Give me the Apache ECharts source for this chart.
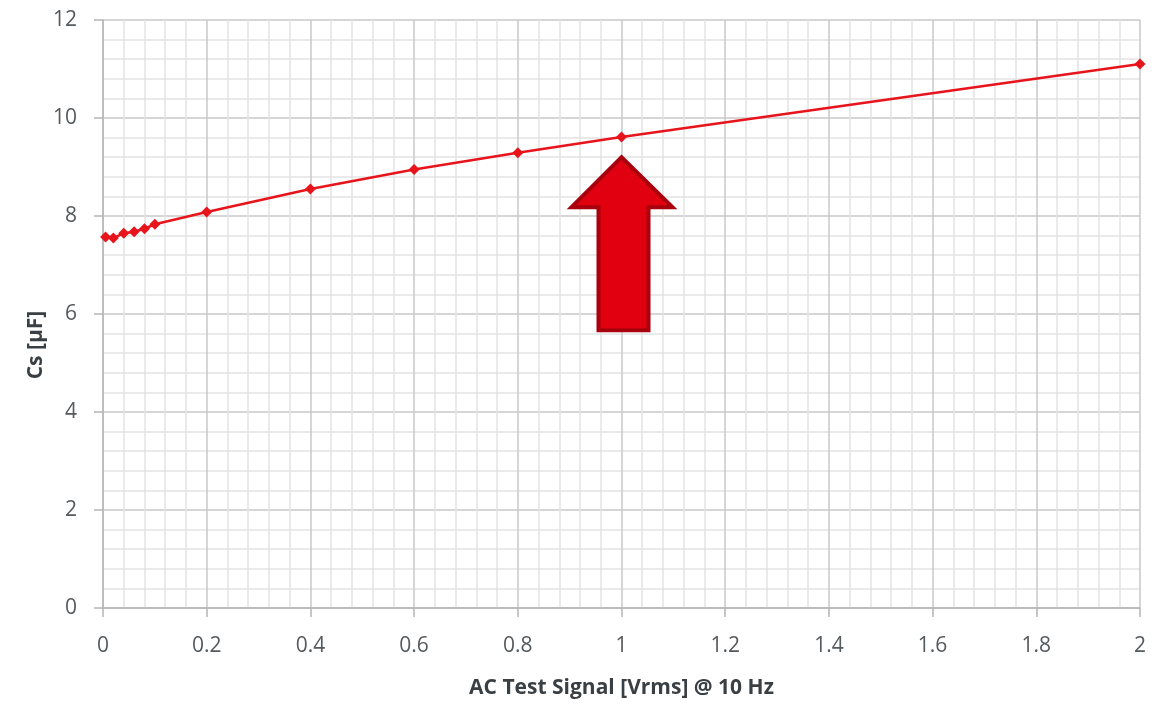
<!DOCTYPE html>
<html>
<head>
<meta charset="utf-8">
<script src="https://cdn.jsdelivr.net/npm/echarts@6/dist/echarts.min.js"></script>
<style>html,body{margin:0;padding:0;background:#fff}#c{width:1163px;height:706px}</style>
</head>
<body>
<div id="c"></div>
<script>
const xValues = [0.005, 0.02, 0.04, 0.06, 0.08, 0.1, 0.2, 0.4, 0.6, 0.8, 1, 2];
const csValues = [7.57, 7.55, 7.65, 7.68, 7.74, 7.83, 8.08, 8.55, 8.95, 9.29, 9.61, 11.1];
const xAxisTitle = 'AC Test Signal [Vrms] @ 10 Hz';
const yAxisTitle = 'Cs [µF]';
const arrowTarget = [1, 9.2];

const chart = echarts.init(document.getElementById('c'), null, {renderer: 'canvas'});
const font = '"Open Sans", "Liberation Sans", sans-serif';
const labelColor = '#555a5e';
const titleColor = '#3a3f44';
const major = '#c9c9c9';
const minor = '#e3e3e3';

chart.setOption({
  animation: false,
  grid: {left: 103, right: 23, top: 20, bottom: 98},
  xAxis: {
    type: 'value', min: 0, max: 2, interval: 0.2,
    name: xAxisTitle, nameLocation: 'middle', nameGap: 70,
    nameTextStyle: {fontFamily: font, fontSize: 21, fontWeight: 'bold', color: titleColor},
    axisLine: {show: true, lineStyle: {color: '#b5b5b5', width: 1.5}},
    axisTick: {show: true, length: 9, lineStyle: {color: '#b5b5b5', width: 1.5}},
    axisLabel: {margin: 28, fontFamily: font, fontSize: 21, color: labelColor},
    splitLine: {show: true, lineStyle: {color: major, width: 1.5}},
    minorTick: {show: false, splitNumber: 5},
    minorSplitLine: {show: true, lineStyle: {color: minor, width: 1.5}}
  },
  yAxis: {
    type: 'value', min: 0, max: 12, interval: 2,
    axisLine: {show: true, lineStyle: {color: '#b5b5b5', width: 1.5}},
    axisTick: {show: true, length: 9, lineStyle: {color: '#b5b5b5', width: 1.5}},
    axisLabel: {margin: 26, fontFamily: font, fontSize: 21, color: labelColor},
    splitLine: {show: true, lineStyle: {color: major, width: 1.5}},
    minorTick: {show: false, splitNumber: 5},
    minorSplitLine: {show: true, lineStyle: {color: minor, width: 1.5}}
  },
  series: [{
    type: 'line',
    data: xValues.map((x, i) => [x, csValues[i]]),
    smooth: false,
    symbol: 'diamond', symbolSize: 11,
    lineStyle: {color: '#e8141c', width: 2.5},
    itemStyle: {color: '#e8141c'}
  }]
});

function drawExtras() {
  const tip = chart.convertToPixel({gridIndex: 0}, arrowTarget);
  const tx = tip[0], ty = tip[1];
  const pts = [
    [tx, ty], [tx + 51, ty + 50], [tx + 27, ty + 50], [tx + 27, ty + 173],
    [tx - 23, ty + 173], [tx - 23, ty + 50], [tx - 50, ty + 50]
  ];
  chart.setOption({
    graphic: [{
      type: 'polygon', shape: {points: pts}, z: 100,
      style: {fill: '#e0000f', stroke: '#a8000c', lineWidth: 4, lineJoin: 'miter'}
    }, {
      type: 'text', x: 36, y: 345, rotation: Math.PI / 2,
      style: {text: yAxisTitle, fontFamily: font, fontSize: 21, fontWeight: 'bold',
        fill: titleColor, align: 'center', verticalAlign: 'middle'}
    }]
  });
}
drawExtras();
</script>
</body>
</html>
